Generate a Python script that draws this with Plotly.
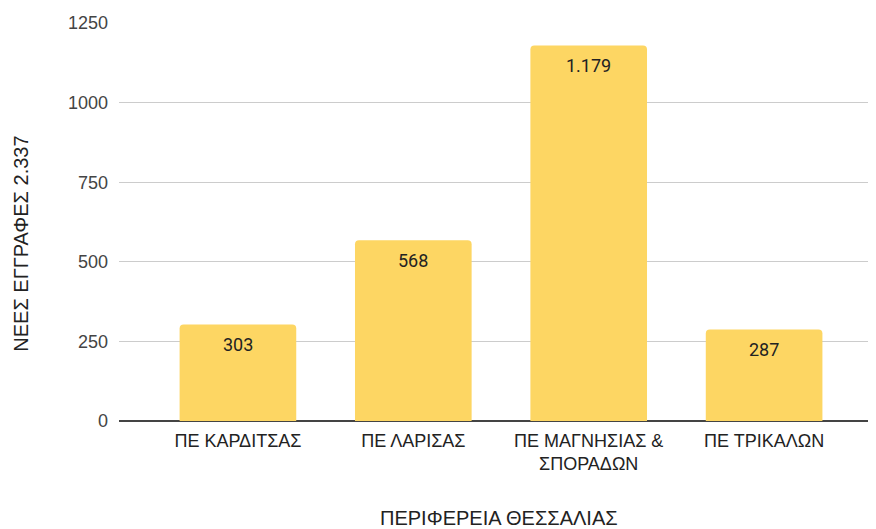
import plotly.graph_objects as go

categories = ["ΠΕ ΚΑΡΔΙΤΣΑΣ", "ΠΕ ΛΑΡΙΣΑΣ", "ΠΕ ΜΑΓΝΗΣΙΑΣ &<br>ΣΠΟΡΑΔΩΝ", "ΠΕ ΤΡΙΚΑΛΩΝ"]
values = [303, 568, 1179, 287]
value_labels = ["303", "568", "1.179", "287"]
y_ticks = [0, 250, 500, 750, 1000, 1250]
y_title = "ΝΕΕΣ ΕΓΓΡΑΦΕΣ 2.337"
x_title = "ΠΕΡΙΦΕΡΕΙΑ ΘΕΣΣΑΛΙΑΣ"

BAR = "#FDD663"
TXT = "#444444"

fig = go.Figure()
fig.add_trace(go.Bar(
    x=list(range(len(categories))),
    y=values,
    marker=dict(color=BAR, line=dict(width=0), cornerradius=4),
    hoverinfo="skip",
))

for i, (v, lab) in enumerate(zip(values, value_labels)):
    fig.add_annotation(x=i, y=v, xref="x", yref="y", text=lab, showarrow=False,
                       yanchor="middle", yshift=-20,
                       font=dict(family="Roboto", size=18, color="#222222"))

fig.add_annotation(xref="paper", yref="paper", x=-0.1295, y=0.4453, text=y_title,
                   textangle=-90, showarrow=False, xanchor="center", yanchor="middle",
                   font=dict(family="Liberation Sans", size=20, color="#222222"))
fig.add_annotation(xref="paper", yref="paper", x=0.502, y=-0.2425, text=x_title,
                   showarrow=False, xanchor="center", yanchor="middle",
                   font=dict(family="Liberation Sans", size=20, color="#222222"))

fig.update_layout(
    width=868, height=521,
    margin=dict(l=111, r=0, t=15, b=107.6, pad=0),
    paper_bgcolor="white", plot_bgcolor="white",
    bargap=0.335,
    showlegend=False,
    font=dict(family="Liberation Sans", size=18, color=TXT),
)
fig.update_xaxes(
    range=[-0.678, 3.638],
    tickmode="array", tickvals=list(range(len(categories))), ticktext=categories,
    showgrid=False, showline=False, zeroline=False, ticks="",
    ticklabelstandoff=7,
    tickfont=dict(family="Liberation Sans", size=18, color="#222222"),
)
fig.update_yaxes(
    range=[0, 1250],
    tickmode="array", tickvals=y_ticks, ticktext=[str(t) for t in y_ticks],
    showgrid=True, gridcolor="#cccccc", gridwidth=1,
    zeroline=True, zerolinecolor="#444444", zerolinewidth=1.5,
    showline=False, ticks="", ticklabelstandoff=10,
    tickfont=dict(family="Liberation Sans", size=18, color=TXT),
)

fig.write_html("out.html")
